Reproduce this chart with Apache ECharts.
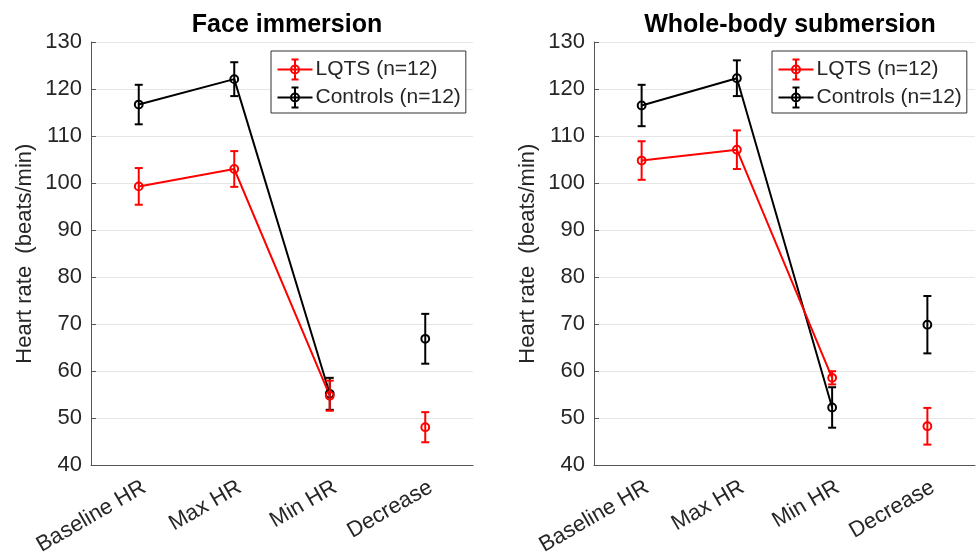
<!DOCTYPE html>
<html>
<head>
<meta charset="utf-8">
<script src="https://cdn.jsdelivr.net/npm/echarts@6/dist/echarts.min.js"></script>
<style>
  html, body { margin: 0; padding: 0; background: #fff; }
  #chart { width: 977px; height: 558px; }
</style>
</head>
<body>
<div id="chart"></div>
<script>
const categories = ['Baseline HR', 'Max HR', 'Min HR', 'Decrease']
const yMin = 40
const yMax = 130
const yStep = 10

// face immersion
const faceLqtsMean = [99.3, 103.0, 54.8, 48.1]
const faceLqtsErr = [3.9, 3.8, 3.2, 3.2]
const faceCtrlMean = [116.7, 122.1, 55.2, 66.9]
const faceCtrlErr = [4.2, 3.6, 3.4, 5.3]

// whole-body submersion
const bodyLqtsMean = [104.8, 107.1, 58.6, 48.3]
const bodyLqtsErr = [4.1, 4.1, 1.4, 3.9]
const bodyCtrlMean = [116.5, 122.3, 52.3, 69.9]
const bodyCtrlErr = [4.4, 3.8, 4.3, 6.1]

const lqtsName = 'LQTS (n=12)'
const ctrlName = 'Controls (n=12)'
const font = 'Liberation Sans, Arial, Helvetica, sans-serif'
const txt = '#262626'
const axisCol = '#555'

const legendIcon = 'path://M0,10 L35,10 M17.5,0 L17.5,20 M14,0 L21,0 M14,20 L21,20 M21.5,10 A4,4 0 1 1 13.5,10 A4,4 0 1 1 21.5,10'

const chart = echarts.init(document.getElementById('chart'))

const errSeries = (name, idx, mean, err, color) => ({
  name: name,
  type: 'custom',
  xAxisIndex: idx,
  yAxisIndex: idx,
  z: 3,
  data: mean.map((m, i) => [i, m - err[i], m + err[i], m]),
  renderItem: (params, api) => {
    const lo = api.coord([api.value(0), api.value(1)])
    const hi = api.coord([api.value(0), api.value(2)])
    const mid = api.coord([api.value(0), api.value(3)])
    const cap = 4
    const style = { stroke: color, lineWidth: 2, fill: 'none' }
    return {
      type: 'group',
      children: [
        { type: 'line', shape: { x1: lo[0], y1: lo[1], x2: hi[0], y2: hi[1] }, style: style },
        { type: 'line', shape: { x1: lo[0] - cap, y1: lo[1], x2: lo[0] + cap, y2: lo[1] }, style: style },
        { type: 'line', shape: { x1: hi[0] - cap, y1: hi[1], x2: hi[0] + cap, y2: hi[1] }, style: style },
        { type: 'circle', shape: { cx: mid[0], cy: mid[1], r: 3.9 }, style: style }
      ]
    }
  }
})

const lineSeries = (name, idx, mean, color) => ({
  name: name,
  type: 'line',
  xAxisIndex: idx,
  yAxisIndex: idx,
  z: 2,
  showSymbol: false,
  silent: true,
  data: mean.slice(0, 3),
  lineStyle: { color: color, width: 2 },
  itemStyle: { color: color }
})

const makeX = idx => ({
  type: 'category',
  gridIndex: idx,
  data: categories,
  boundaryGap: true,
  axisLine: { lineStyle: { color: axisCol, width: 1 } },
  axisTick: { inside: true, alignWithLabel: true, length: 5, lineStyle: { color: axisCol } },
  axisLabel: { rotate: 30, fontSize: 22, color: txt, fontFamily: font, margin: 11, interval: 0,
    align: 'right', verticalAlign: 'top' },
  splitLine: { show: false }
})

const makeY = idx => ({
  type: 'value',
  gridIndex: idx,
  min: yMin,
  max: yMax,
  interval: yStep,
  name: 'Heart rate  (beats/min)',
  nameLocation: 'middle',
  nameGap: 55,
  nameTextStyle: { fontSize: 22, color: txt, fontFamily: font },
  axisLine: { show: true, lineStyle: { color: axisCol, width: 1 } },
  axisTick: { show: true, inside: true, length: 5, lineStyle: { color: axisCol } },
  axisLabel: { fontSize: 22, color: txt, fontFamily: font, margin: 9 },
  splitLine: { show: true, lineStyle: { color: '#e6e6e6', width: 1 } }
})

const makeLegend = left => ({
  left: left,
  top: 51,
  orient: 'vertical',
  itemWidth: 35,
  itemHeight: 20,
  itemGap: 3,
  padding: [6, 5, 3, 4],
  backgroundColor: '#fff',
  borderColor: '#333',
  borderWidth: 1,
  borderRadius: 0,
  selectedMode: false,
  textStyle: { fontSize: 21, color: txt, fontFamily: font, lineHeight: 22, padding: [0, 0, 0, -2] },
  data: [
    { name: lqtsName, icon: legendIcon, itemStyle: { color: 'none', borderColor: '#ff0000', borderWidth: 2 } },
    { name: ctrlName, icon: legendIcon, itemStyle: { color: 'none', borderColor: '#000000', borderWidth: 2 } }
  ]
})

const option = {
  animation: false,
  backgroundColor: '#fff',
  title: [
    { text: 'Face immersion', left: 282, top: 8, textAlign: 'center',
      textStyle: { fontSize: 25, fontWeight: 'bold', color: '#000', fontFamily: font } },
    { text: 'Whole-body submersion', left: 785, top: 8, textAlign: 'center',
      textStyle: { fontSize: 25, fontWeight: 'bold', color: '#000', fontFamily: font } }
  ],
  grid: [
    { left: 91, right: 504, top: 42, bottom: 92 },
    { left: 594, right: 2, top: 42, bottom: 92 }
  ],
  xAxis: [makeX(0), makeX(1)],
  yAxis: [makeY(0), makeY(1)],
  legend: [makeLegend(271), makeLegend(772)],
  series: [
    lineSeries(ctrlName, 0, faceCtrlMean, '#000000'),
    lineSeries(lqtsName, 0, faceLqtsMean, '#ff0000'),
    errSeries('ctrl-face', 0, faceCtrlMean, faceCtrlErr, '#000000'),
    errSeries('lqts-face', 0, faceLqtsMean, faceLqtsErr, '#ff0000'),
    lineSeries(ctrlName, 1, bodyCtrlMean, '#000000'),
    lineSeries(lqtsName, 1, bodyLqtsMean, '#ff0000'),
    errSeries('ctrl-body', 1, bodyCtrlMean, bodyCtrlErr, '#000000'),
    errSeries('lqts-body', 1, bodyLqtsMean, bodyLqtsErr, '#ff0000')
  ]
}

chart.setOption(option)
</script>
</body>
</html>
